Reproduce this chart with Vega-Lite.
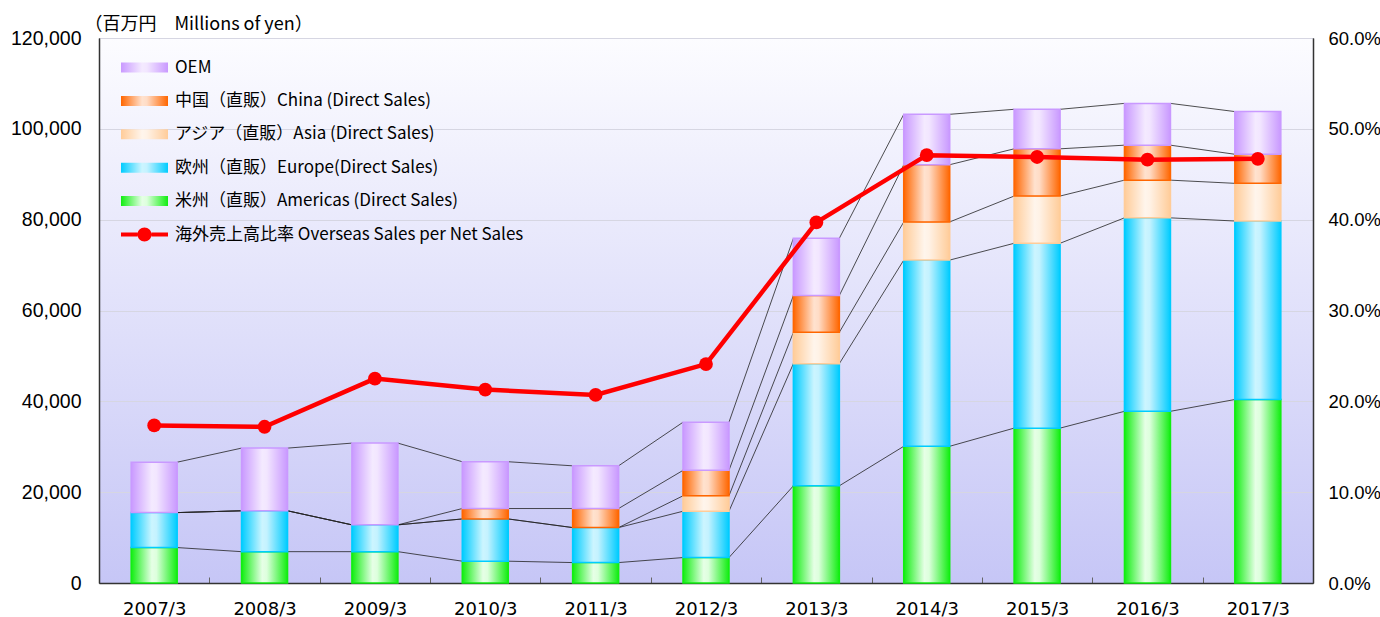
{
  "$schema": "https://vega.github.io/schema/vega-lite/v6.json",
  "width": 1214,
  "height": 545,
  "autosize": {"type": "none"},
  "padding": {"left": 99, "top": 38, "right": 67, "bottom": 34},
  "background": "white",
  "config": {
    "view": {
      "stroke": "#555555",
      "strokeWidth": 1,
      "fill": {"gradient": "linear", "x1": 0, "y1": 0, "x2": 0, "y2": 1,
        "stops": [{"offset": 0, "color": "#FCFCFF"}, {"offset": 1, "color": "#C6C6F6"}]}
    },
    "font": "Liberation Sans"
  },
  "datasets": {
    "sales": [
      {"year": "2007/3", "series": "米州（直販）Americas (Direct Sales)", "ord": 1, "value": 7800},
      {"year": "2007/3", "series": "欧州（直販）Europe(Direct Sales)", "ord": 2, "value": 7700},
      {"year": "2007/3", "series": "アジア（直販）Asia (Direct Sales)", "ord": 3, "value": 0},
      {"year": "2007/3", "series": "中国（直販）China (Direct Sales)", "ord": 4, "value": 0},
      {"year": "2007/3", "series": "OEM", "ord": 5, "value": 11100},
      {"year": "2008/3", "series": "米州（直販）Americas (Direct Sales)", "ord": 1, "value": 6900},
      {"year": "2008/3", "series": "欧州（直販）Europe(Direct Sales)", "ord": 2, "value": 9000},
      {"year": "2008/3", "series": "アジア（直販）Asia (Direct Sales)", "ord": 3, "value": 0},
      {"year": "2008/3", "series": "中国（直販）China (Direct Sales)", "ord": 4, "value": 0},
      {"year": "2008/3", "series": "OEM", "ord": 5, "value": 13800},
      {"year": "2009/3", "series": "米州（直販）Americas (Direct Sales)", "ord": 1, "value": 6900},
      {"year": "2009/3", "series": "欧州（直販）Europe(Direct Sales)", "ord": 2, "value": 5900},
      {"year": "2009/3", "series": "アジア（直販）Asia (Direct Sales)", "ord": 3, "value": 0},
      {"year": "2009/3", "series": "中国（直販）China (Direct Sales)", "ord": 4, "value": 0},
      {"year": "2009/3", "series": "OEM", "ord": 5, "value": 18000},
      {"year": "2010/3", "series": "米州（直販）Americas (Direct Sales)", "ord": 1, "value": 4800},
      {"year": "2010/3", "series": "欧州（直販）Europe(Direct Sales)", "ord": 2, "value": 9300},
      {"year": "2010/3", "series": "アジア（直販）Asia (Direct Sales)", "ord": 3, "value": 0},
      {"year": "2010/3", "series": "中国（直販）China (Direct Sales)", "ord": 4, "value": 2300},
      {"year": "2010/3", "series": "OEM", "ord": 5, "value": 10300},
      {"year": "2011/3", "series": "米州（直販）Americas (Direct Sales)", "ord": 1, "value": 4500},
      {"year": "2011/3", "series": "欧州（直販）Europe(Direct Sales)", "ord": 2, "value": 7700},
      {"year": "2011/3", "series": "アジア（直販）Asia (Direct Sales)", "ord": 3, "value": 0},
      {"year": "2011/3", "series": "中国（直販）China (Direct Sales)", "ord": 4, "value": 4200},
      {"year": "2011/3", "series": "OEM", "ord": 5, "value": 9400},
      {"year": "2012/3", "series": "米州（直販）Americas (Direct Sales)", "ord": 1, "value": 5600},
      {"year": "2012/3", "series": "欧州（直販）Europe(Direct Sales)", "ord": 2, "value": 10200},
      {"year": "2012/3", "series": "アジア（直販）Asia (Direct Sales)", "ord": 3, "value": 3400},
      {"year": "2012/3", "series": "中国（直販）China (Direct Sales)", "ord": 4, "value": 5600},
      {"year": "2012/3", "series": "OEM", "ord": 5, "value": 10600},
      {"year": "2013/3", "series": "米州（直販）Americas (Direct Sales)", "ord": 1, "value": 21400},
      {"year": "2013/3", "series": "欧州（直販）Europe(Direct Sales)", "ord": 2, "value": 26900},
      {"year": "2013/3", "series": "アジア（直販）Asia (Direct Sales)", "ord": 3, "value": 6900},
      {"year": "2013/3", "series": "中国（直販）China (Direct Sales)", "ord": 4, "value": 8100},
      {"year": "2013/3", "series": "OEM", "ord": 5, "value": 12600},
      {"year": "2014/3", "series": "米州（直販）Americas (Direct Sales)", "ord": 1, "value": 30100},
      {"year": "2014/3", "series": "欧州（直販）Europe(Direct Sales)", "ord": 2, "value": 41000},
      {"year": "2014/3", "series": "アジア（直販）Asia (Direct Sales)", "ord": 3, "value": 8400},
      {"year": "2014/3", "series": "中国（直販）China (Direct Sales)", "ord": 4, "value": 12600},
      {"year": "2014/3", "series": "OEM", "ord": 5, "value": 11100},
      {"year": "2015/3", "series": "米州（直販）Americas (Direct Sales)", "ord": 1, "value": 34100},
      {"year": "2015/3", "series": "欧州（直販）Europe(Direct Sales)", "ord": 2, "value": 40700},
      {"year": "2015/3", "series": "アジア（直販）Asia (Direct Sales)", "ord": 3, "value": 10400},
      {"year": "2015/3", "series": "中国（直販）China (Direct Sales)", "ord": 4, "value": 10400},
      {"year": "2015/3", "series": "OEM", "ord": 5, "value": 8700},
      {"year": "2016/3", "series": "米州（直販）Americas (Direct Sales)", "ord": 1, "value": 37800},
      {"year": "2016/3", "series": "欧州（直販）Europe(Direct Sales)", "ord": 2, "value": 42600},
      {"year": "2016/3", "series": "アジア（直販）Asia (Direct Sales)", "ord": 3, "value": 8300},
      {"year": "2016/3", "series": "中国（直販）China (Direct Sales)", "ord": 4, "value": 7700},
      {"year": "2016/3", "series": "OEM", "ord": 5, "value": 9200},
      {"year": "2017/3", "series": "米州（直販）Americas (Direct Sales)", "ord": 1, "value": 40400},
      {"year": "2017/3", "series": "欧州（直販）Europe(Direct Sales)", "ord": 2, "value": 39300},
      {"year": "2017/3", "series": "アジア（直販）Asia (Direct Sales)", "ord": 3, "value": 8300},
      {"year": "2017/3", "series": "中国（直販）China (Direct Sales)", "ord": 4, "value": 6400},
      {"year": "2017/3", "series": "OEM", "ord": 5, "value": 9400}
    ],
    "ratio": [
      {"year": "2007/3", "ratio": 0.1735},
      {"year": "2008/3", "ratio": 0.172},
      {"year": "2009/3", "ratio": 0.225},
      {"year": "2010/3", "ratio": 0.213},
      {"year": "2011/3", "ratio": 0.207},
      {"year": "2012/3", "ratio": 0.241},
      {"year": "2013/3", "ratio": 0.397},
      {"year": "2014/3", "ratio": 0.471},
      {"year": "2015/3", "ratio": 0.469},
      {"year": "2016/3", "ratio": 0.466},
      {"year": "2017/3", "ratio": 0.467}
    ]
  },
  "encoding": {
    "x": {
      "field": "year", "type": "nominal",
      "scale": {"type": "band", "paddingInner": 0, "paddingOuter": 0},
      "axis": {
        "title": null, "labelAngle": 0, "labelFont": "DejaVu Sans", "labelFontSize": 18,
        "labelColor": "#000000", "labelPadding": 23, "domainColor": "#333333", "domainWidth": 1.5,
        "tickBand": "extent", "tickSize": -6, "tickColor": "#666666", "grid": false
      }
    }
  },
  "layer": [
    {
      "data": {"name": "sales"},
      "transform": [
        {"stack": "value", "groupby": ["year"], "sort": [{"field": "ord", "order": "ascending"}], "as": ["v0", "v1"]}
      ],
      "encoding": {
        "y": {
          "field": "v1", "type": "quantitative",
          "scale": {"domain": [0, 120000], "nice": false},
          "axis": {
            "title": "（百万円　Millions of yen）", "titleAngle": 0, "titleAlign": "left", "titleBaseline": "alphabetic",
            "titleX": -15, "titleY": -9, "titleFont": "Noto Sans CJK JP", "titleFontSize": 18, "titleFontWeight": "normal",
            "titleColor": "#000000",
            "values": [0, 20000, 40000, 60000, 80000, 100000, 120000], "format": ",.0f",
            "labelFont": "Liberation Sans", "labelFontSize": 19.5, "labelColor": "#000000", "labelPadding": 18,
            "ticks": false, "domainColor": "#333333", "domainWidth": 1.5,
            "grid": true, "gridColor": "#D6D6E2", "gridWidth": 1
          }
        }
      },
      "layer": [
        {
          "transform": [
            {"window": [{"op": "lead", "field": "v1", "as": "nv1"}, {"op": "lead", "field": "year", "as": "nyear"}],
             "groupby": ["series"], "sort": [{"field": "year", "order": "ascending"}]},
            {"filter": "datum.nyear != null"}
          ],
          "mark": {"type": "rule", "color": "#222222", "strokeWidth": 0.8},
          "encoding": {
            "x": {"field": "year", "type": "nominal", "bandPosition": 0.708},
            "x2": {"field": "nyear", "bandPosition": 0.292},
            "y2": {"field": "nv1"}
          }
        },
        {
          "transform": [{"filter": "datum.value > 0"}],
          "mark": {"type": "bar", "width": {"band": 0.417}, "strokeWidth": 1.5, "opacity": 1},
          "encoding": {
            "y2": {"field": "v0"},
            "fill": {
              "field": "series", "type": "nominal",
              "scale": {
                "domain": ["OEM", "中国（直販）China (Direct Sales)", "アジア（直販）Asia (Direct Sales)", "欧州（直販）Europe(Direct Sales)", "米州（直販）Americas (Direct Sales)", "海外売上高比率 Overseas Sales per Net Sales"],
                "range": [
                  {"expr": "{gradient: 'linear', x1: 0, y1: 0, x2: 1, y2: 0, stops: [{offset: 0, color: '#C999FF'}, {offset: 0.45, color: '#F4EAFF'}, {offset: 0.55, color: '#F2E6FF'}, {offset: 1, color: '#C999FF'}]}"},
                  {"expr": "{gradient: 'linear', x1: 0, y1: 0, x2: 1, y2: 0, stops: [{offset: 0, color: '#FF6600'}, {offset: 0.45, color: '#FFE2CF'}, {offset: 0.55, color: '#FFDCC6'}, {offset: 1, color: '#FF6600'}]}"},
                  {"expr": "{gradient: 'linear', x1: 0, y1: 0, x2: 1, y2: 0, stops: [{offset: 0, color: '#FFCC99'}, {offset: 0.45, color: '#FFF5EC'}, {offset: 0.55, color: '#FFF2E6'}, {offset: 1, color: '#FFCC99'}]}"},
                  {"expr": "{gradient: 'linear', x1: 0, y1: 0, x2: 1, y2: 0, stops: [{offset: 0, color: '#00CCFF'}, {offset: 0.45, color: '#CCF5FF'}, {offset: 0.55, color: '#C4F2FF'}, {offset: 1, color: '#00CCFF'}]}"},
                  {"expr": "{gradient: 'linear', x1: 0, y1: 0, x2: 1, y2: 0, stops: [{offset: 0, color: '#11EE11'}, {offset: 0.45, color: '#E6FFE6'}, {offset: 0.55, color: '#DDFFDD'}, {offset: 1, color: '#11EE11'}]}"},
                  "#FF0000"
                ]
              },
              "legend": {
                "title": null, "orient": "none", "legendX": 37, "legendY": 21, "padding": 0,
                "symbolSize": 100, "symbolStrokeWidth": 0, "symbolOpacity": 1,
                "labelFont": "Noto Sans CJK JP", "labelFontSize": 17, "labelColor": "#000000", "labelOffset": 22,
                "rowPadding": 15.4, "labelLimit": 600
              }
            },
            "stroke": {
              "field": "series", "type": "nominal",
              "scale": {
                "domain": ["OEM", "中国（直販）China (Direct Sales)", "アジア（直販）Asia (Direct Sales)", "欧州（直販）Europe(Direct Sales)", "米州（直販）Americas (Direct Sales)"],
                "range": ["#C999FF", "#FF6600", "#FFCC99", "#00CCFF", "#11EE11"]
              },
              "legend": null
            }
          }
        },
        {
          "transform": [{"filter": "false"}],
          "mark": {"type": "point", "filled": true, "opacity": 1},
          "encoding": {
            "fill": {"field": "series", "type": "nominal"},
            "shape": {
              "field": "series", "type": "nominal",
              "scale": {
                "domain": ["OEM", "中国（直販）China (Direct Sales)", "アジア（直販）Asia (Direct Sales)", "欧州（直販）Europe(Direct Sales)", "米州（直販）Americas (Direct Sales)", "海外売上高比率 Overseas Sales per Net Sales"],
                "range": ["M-4.7,-1H4.7V1H-4.7Z", "M-4.7,-1H4.7V1H-4.7Z", "M-4.7,-1H4.7V1H-4.7Z", "M-4.7,-1H4.7V1H-4.7Z", "M-4.7,-1H4.7V1H-4.7Z", "M-4.7,-0.4H-1.4V0.4H-4.7Z M1.4,-0.4H4.7V0.4H1.4Z M-1.4,0A1.4,1.4 0 1,1 1.4,0A1.4,1.4 0 1,1 -1.4,0Z"]
              },
              "legend": {
                "title": null, "orient": "none", "legendX": 37, "legendY": 21, "padding": 0,
                "symbolSize": 100, "symbolStrokeWidth": 0, "symbolOpacity": 1,
                "labelFont": "Noto Sans CJK JP", "labelFontSize": 17, "labelColor": "#000000", "labelOffset": 22,
                "rowPadding": 15.4, "labelLimit": 600
              }
            }
          }
        }
      ]
    },
    {
      "data": {"name": "ratio"},
      "encoding": {
        "y": {
          "field": "ratio", "type": "quantitative",
          "scale": {"domain": [0, 0.6], "nice": false},
          "axis": {
            "orient": "right", "title": null, "values": [0, 0.1, 0.2, 0.3, 0.4, 0.5, 0.6], "format": ".1%",
            "labelFont": "Liberation Sans", "labelFontSize": 18.5, "labelColor": "#000000", "labelPadding": 15,
            "ticks": false, "domainColor": "#333333", "domainWidth": 1.5, "grid": false
          }
        }
      },
      "layer": [
        {
          "mark": {"type": "line", "strokeWidth": 4.5, "color": "#FF0000"}
        },
        {
          "mark": {"type": "point", "filled": true, "size": 190, "opacity": 1, "color": "#FF0000"}
        }
      ]
    }
  ],
  "resolve": {"scale": {"y": "independent"}}
}
